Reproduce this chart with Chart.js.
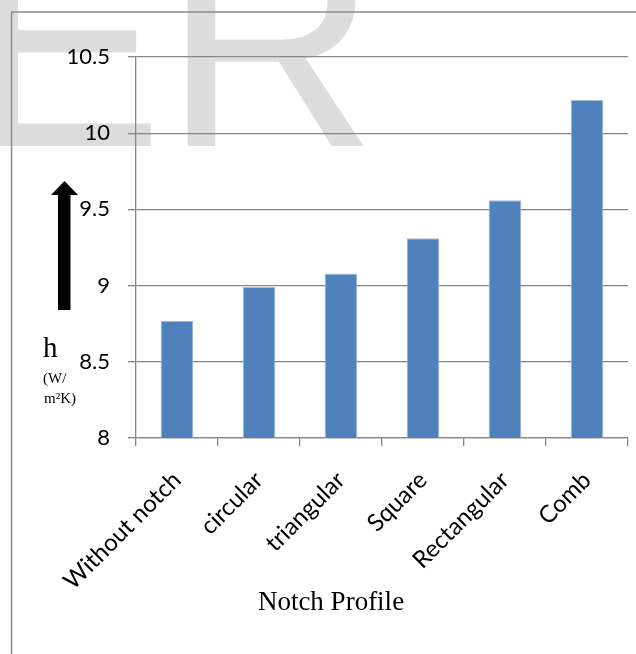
<!DOCTYPE html>
<html>
<head>
<meta charset="utf-8">
<script src="https://cdn.jsdelivr.net/npm/chart.js@4.4.1/dist/chart.umd.min.js"></script>
<style>
  html, body { margin: 0; padding: 0; background: #ffffff; }
  #wrap { width: 636px; height: 654px; position: relative; }
  canvas { display: block; }
</style>
</head>
<body>
<div id="wrap"><canvas id="c" width="636" height="654"></canvas></div>
<script>
const categories = ['Without notch', 'circular', 'triangular', 'Square', 'Rectangular', 'Comb'];
const hValues = [8.77, 8.99, 9.08, 9.31, 9.56, 10.22];
const yTickValues = [8, 8.5, 9, 9.5, 10, 10.5];
const yUnitLines = ['(W/', 'm²K)'];
const yLetter = 'h';
const xTitle = 'Notch Profile';
const watermarkText = 'ER';

const GRID = '#878787';

const decor = {
  id: 'decor',
  beforeDraw(chart) {
    const ctx = chart.ctx;
    ctx.save();
    ctx.fillStyle = '#ffffff';
    ctx.fillRect(0, 0, chart.width, chart.height);
    // watermark
    ctx.fillStyle = '#dddddd';
    ctx.font = '296px "Liberation Sans", Arial, sans-serif';
    ctx.textAlign = 'left';
    ctx.textBaseline = 'alphabetic';
    ctx.fillText(watermarkText, -34, 146);
    // frame lines
    ctx.strokeStyle = '#8a8a8a';
    ctx.lineWidth = 1.5;
    ctx.beginPath();
    ctx.moveTo(11.5, chart.height);
    ctx.lineTo(11.5, 12);
    ctx.lineTo(chart.width, 12);
    ctx.stroke();
    ctx.restore();
  },
  afterDraw(chart) {
    const ctx = chart.ctx;
    ctx.save();
    // arrow
    ctx.fillStyle = '#000000';
    ctx.beginPath();
    ctx.moveTo(64.5, 181);
    ctx.lineTo(78, 195);
    ctx.lineTo(70.5, 195);
    ctx.lineTo(70.5, 310);
    ctx.lineTo(58, 310);
    ctx.lineTo(58, 195);
    ctx.lineTo(51, 195);
    ctx.closePath();
    ctx.fill();
    // y label
    ctx.textAlign = 'left';
    ctx.textBaseline = 'alphabetic';
    ctx.font = '29px "Liberation Serif", "DejaVu Serif", serif';
    ctx.fillText(yLetter, 43, 357);
    ctx.font = '15px "Liberation Serif", "DejaVu Serif", serif';
    ctx.fillText(yUnitLines[0], 43, 383);
    ctx.fillText(yUnitLines[1], 44, 403);
    // x title
    ctx.textAlign = 'center';
    ctx.font = '27px "Liberation Serif", "DejaVu Serif", serif';
    ctx.fillText(xTitle, 331, 610);
    ctx.restore();
  }
};

new Chart(document.getElementById('c'), {
  type: 'bar',
  data: {
    labels: categories,
    datasets: [{
      data: hValues,
      backgroundColor: '#4f81bd',
      borderColor: '#a9c1e0',
      borderWidth: 1,
      barPercentage: 0.8,
      categoryPercentage: 0.5
    }]
  },
  options: {
    responsive: false,
    animation: false,
    devicePixelRatio: 1,
    layout: { padding: { left: 0, top: 57, right: 8, bottom: 0 } },
    plugins: {
      legend: { display: false },
      tooltip: { enabled: false },
      title: { display: false }
    },
    scales: {
      x: {
        type: 'category',
        offset: true,
        grid: {
          offset: true,
          drawOnChartArea: false,
          drawTicks: true,
          tickLength: 8,
          color: GRID,
          lineWidth: 1.3
        },
        border: { color: GRID, width: 1.3 },
        ticks: {
          maxRotation: 45,
          minRotation: 45,
          padding: 20,
          color: '#000000',
          font: { family: 'Lato', size: 24 }
        },
        afterFit(scale) { scale.height = 216; }
      },
      y: {
        min: 8,
        max: 10.5,
        afterBuildTicks(scale) {
          scale.ticks = yTickValues.map(v => ({ value: v }));
        },
        grid: {
          drawTicks: true,
          tickLength: 8,
          color: GRID,
          lineWidth: 1.3
        },
        border: { color: GRID, width: 1.3 },
        ticks: {
          padding: 18,
          color: '#000000',
          font: { family: 'Lato', size: 22 },
          callback: (v) => String(v)
        },
        afterFit(scale) { scale.width = 136; }
      }
    }
  },
  plugins: [decor]
});
</script>
</body>
</html>
